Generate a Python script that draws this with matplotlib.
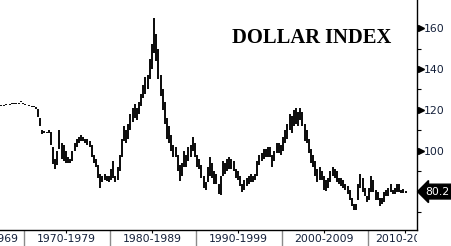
import matplotlib
matplotlib.use("Agg")
import matplotlib.pyplot as plt
from matplotlib.transforms import Bbox, TransformedBbox

# quarterly bars: start of quarter, high, low
quarters = [
    1967.25, 1967.5, 1967.75, 1968.0, 1968.25, 1968.5, 1968.75, 1969.0, 1969.25, 1969.5, 1969.75,
    1970.0, 1970.25, 1970.5, 1970.75, 1971.0, 1971.25, 1971.5, 1971.75,
    1972.0, 1972.25, 1972.5, 1972.75, 1973.0, 1973.25, 1973.5, 1973.75,
    1974.0, 1974.25, 1974.5, 1974.75, 1975.0, 1975.25, 1975.5, 1975.75,
    1976.0, 1976.25, 1976.5, 1976.75, 1977.0, 1977.25, 1977.5, 1977.75,
    1978.0, 1978.25, 1978.5, 1978.75, 1979.0, 1979.25, 1979.5, 1979.75,
    1980.0, 1980.25, 1980.5, 1980.75, 1981.0, 1981.25, 1981.5, 1981.75,
    1982.0, 1982.25, 1982.5, 1982.75, 1983.0, 1983.25, 1983.5, 1983.75,
    1984.0, 1984.25, 1984.5, 1984.75, 1985.0, 1985.25, 1985.5, 1985.75,
    1986.0, 1986.25, 1986.5, 1986.75, 1987.0, 1987.25, 1987.5, 1987.75,
    1988.0, 1988.25, 1988.5, 1988.75, 1989.0, 1989.25, 1989.5, 1989.75,
    1990.0, 1990.25, 1990.5, 1990.75, 1991.0, 1991.25, 1991.5, 1991.75,
    1992.0, 1992.25, 1992.5, 1992.75, 1993.0, 1993.25, 1993.5, 1993.75,
    1994.0, 1994.25, 1994.5, 1994.75, 1995.0, 1995.25, 1995.5, 1995.75,
    1996.0, 1996.25, 1996.5, 1996.75, 1997.0, 1997.25, 1997.5, 1997.75,
    1998.0, 1998.25, 1998.5, 1998.75, 1999.0, 1999.25, 1999.5, 1999.75,
    2000.0, 2000.25, 2000.5, 2000.75, 2001.0, 2001.25, 2001.5, 2001.75,
    2002.0, 2002.25, 2002.5, 2002.75, 2003.0, 2003.25, 2003.5, 2003.75,
    2004.0, 2004.25, 2004.5, 2004.75, 2005.0, 2005.25, 2005.5, 2005.75,
    2006.0, 2006.25, 2006.5, 2006.75, 2007.0, 2007.25, 2007.5, 2007.75,
    2008.0, 2008.25, 2008.5, 2008.75, 2009.0, 2009.25, 2009.5, 2009.75,
    2010.0, 2010.25, 2010.5, 2010.75, 2011.0, 2011.25, 2011.5, 2011.75,
    2012.0, 2012.25, 2012.5, 2012.75, 2013.0, 2013.25, 2013.5, 2013.75,
    2014.0, 2014.25,
]
highs = [
    122.4, 122.5, 123.0, 123.1, 123.0, 123.2, 123.3, 123.2, 123.5, 124.6, 123.2,
    122.9, 122.6, 122.4, 122.0, 121.8, 121.4, 120.5, 116.0,
    110.0, 109.6, 109.5, 110.0, 109.5, 102.0, 96.0, 100.0,
    110.0, 104.0, 103.0, 100.0, 97.0, 96.0, 100.0, 104.0,
    106.0, 107.0, 108.0, 107.0, 106.0, 106.0, 105.0, 103.0,
    98.0, 96.0, 93.0, 89.0, 88.0, 89.0, 88.0, 88.0,
    91.0, 95.0, 88.0, 92.0, 98.0, 106.0, 112.0, 110.0,
    113.0, 118.0, 121.0, 123.0, 121.0, 124.0, 128.0, 132.0,
    136.0, 137.0, 145.0, 152.0, 164.7, 157.0, 150.0, 137.0,
    130.0, 124.0, 116.0, 112.0, 108.0, 103.0, 102.0, 98.0,
    93.0, 94.0, 100.0, 98.0, 102.0, 103.0, 107.0, 104.0,
    98.0, 96.0, 93.0, 88.0, 85.0, 92.0, 97.0, 94.0,
    90.0, 89.0, 84.0, 88.0, 95.0, 94.0, 96.0, 97.0,
    96.0, 95.0, 91.0, 90.0, 88.0, 84.0, 86.0, 87.0,
    88.0, 89.0, 88.0, 89.0, 95.0, 98.0, 99.0, 101.0,
    101.0, 102.0, 102.0, 98.0, 100.0, 104.0, 104.0, 103.0,
    107.0, 110.0, 113.0, 118.0, 117.0, 120.0, 121.0, 119.0,
    121.0, 119.0, 113.0, 110.0, 106.0, 101.0, 98.0, 95.0,
    91.0, 92.0, 90.0, 88.0, 86.0, 87.0, 90.0, 92.0,
    91.0, 90.0, 87.0, 87.0, 86.0, 84.0, 83.0, 81.0,
    77.0, 74.0, 74.0, 84.0, 89.0, 87.0, 82.0, 78.0,
    82.0, 88.0, 86.0, 81.0, 80.0, 77.0, 77.0, 80.0,
    81.0, 82.0, 84.0, 81.0, 82.0, 84.0, 84.0, 81.0,
    81.5, 80.5,
]
lows = [
    122.0, 122.1, 122.6, 122.7, 122.6, 122.8, 122.9, 122.8, 123.1, 124.0, 122.8,
    122.5, 122.2, 122.0, 121.6, 121.4, 120.6, 116.5, 112.0,
    108.5, 108.8, 108.6, 108.8, 103.0, 93.5, 91.0, 93.0,
    101.0, 96.0, 95.0, 94.0, 94.0, 94.0, 95.0, 100.0,
    102.0, 104.0, 105.0, 105.0, 104.0, 103.0, 102.0, 97.0,
    94.0, 92.0, 87.0, 82.0, 85.0, 86.0, 85.5, 85.0,
    86.0, 87.0, 85.0, 86.0, 90.0, 97.0, 105.0, 104.0,
    106.0, 110.0, 114.0, 116.0, 115.0, 118.0, 122.0, 126.0,
    128.0, 130.0, 135.0, 140.0, 148.0, 144.0, 135.0, 127.0,
    120.0, 113.0, 106.0, 104.0, 100.0, 97.0, 97.0, 90.0,
    85.5, 88.0, 92.0, 92.0, 95.0, 97.0, 100.0, 97.0,
    92.0, 91.0, 87.0, 82.0, 81.0, 85.0, 88.0, 87.0,
    84.0, 84.0, 79.0, 78.5, 88.0, 89.0, 90.0, 91.0,
    91.0, 90.0, 87.0, 86.0, 83.0, 80.0, 81.0, 83.0,
    84.0, 85.0, 85.0, 86.0, 88.0, 93.0, 95.0, 96.0,
    97.0, 97.0, 97.0, 92.0, 95.0, 99.0, 99.0, 98.0,
    100.0, 104.0, 106.0, 110.0, 109.0, 112.0, 113.0, 112.0,
    115.0, 112.0, 105.0, 104.0, 99.0, 94.0, 92.0, 88.0,
    85.0, 86.0, 86.0, 81.0, 80.5, 82.0, 85.0, 88.0,
    87.0, 85.0, 84.0, 83.0, 82.0, 81.0, 79.0, 76.0,
    73.0, 71.0, 71.0, 76.0, 82.0, 80.0, 78.0, 75.0,
    76.0, 80.0, 80.0, 76.0, 76.0, 73.0, 74.0, 75.0,
    78.0, 78.0, 80.0, 79.0, 79.0, 80.0, 80.0, 79.5,
    79.5, 79.5,
]
last_value = 80.2

decades = [1970, 1980, 1990, 2000, 2010]
decade_labels = ["1960-1969", "1970-1979", "1980-1989", "1990-1999", "2000-2009", "2010-2019"]
label_pos = [1966.0, 1974.9, 1984.9, 1994.9, 2004.9, 2014.3]
major_ticks = [100, 120, 140, 160]
minor_ticks = [70, 90, 110, 130, 150]

W, H = 451, 246
fig = plt.figure(figsize=(W / 100, H / 100), dpi=100)
ax = fig.add_axes([0, 16 / H, 417 / W, 230 / H])

xs = [q + 0.125 for q in quarters]
ax.vlines(xs, lows, highs, color="black", linewidth=1.35)

ax.set_xlim(1967.21, 2015.70)
ax.set_ylim(61.46, 173.66)

for s in ["left", "top"]:
    ax.spines[s].set_visible(False)
ax.spines["right"].set_linewidth(1)
ax.spines["bottom"].set_linewidth(1)

label_color = "#14203a"
ax.yaxis.tick_right()
ax.set_yticks(major_ticks)
ax.set_yticks(minor_ticks, minor=True)
ax.tick_params(axis="y", which="major", length=0, pad=5.2, labelsize=7.8, labelcolor=label_color)
ax.tick_params(axis="y", which="minor", length=3, width=0.8, direction="out")
ytr = ax.get_yaxis_transform()
ax.plot([1 + 3.5 / 417] * len(major_ticks), major_ticks, marker=">", linestyle="none",
        markersize=5, color="black", transform=ytr, clip_on=False)

# current value flag
ax.text(1 + 8.5 / 417, last_value, f"{last_value}", transform=ytr, color="white",
        fontsize=7.8, va="center", ha="left", clip_on=False,
        bbox=dict(boxstyle="larrow,pad=0.22", fc="black", ec="black"))

# x axis: decade separators and labels
ax.set_xticks(label_pos[1:])
ax.set_xticklabels([])
ax.tick_params(axis="x", length=2.5, width=0.8, direction="out")
xtr = ax.get_xaxis_transform()
ax.vlines(decades, -16 / 230, 0, color="#8a8a8a", linewidth=1, transform=xtr, clip_on=False)
clip = TransformedBbox(Bbox([[0, 0], [417 / W, 1]]), fig.transFigure)
for pos, lab in zip(label_pos, decade_labels):
    t = ax.text(pos, -9 / 230, lab, transform=xtr, ha="center", va="center",
                fontsize=7.8, color=label_color)
    t.set_clip_box(clip)
    t.set_clip_on(True)

ax.text(0.747, 0.835, "DOLLAR INDEX", transform=ax.transAxes, ha="center", va="center",
        fontsize=14.8, fontweight="bold", family="Liberation Serif", color="black")

fig.savefig("out.png", dpi=100)
